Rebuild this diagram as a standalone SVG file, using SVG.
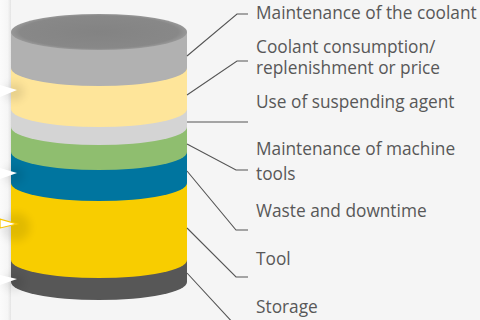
<svg xmlns="http://www.w3.org/2000/svg" width="480" height="320" viewBox="0 0 480 320">
<style>
.lbl{font-family:"Open Sans","Noto Sans","DejaVu Sans",sans-serif;font-size:17.3px;fill:#585858}
.ld{fill:none;stroke:#555;stroke-width:1.1}
</style>
<defs>
<linearGradient id="strip" x1="0" x2="1" y1="0" y2="0">
<stop offset="0" stop-color="#fbfbfb"/>
<stop offset="0.7" stop-color="#f6f6f6"/>
<stop offset="1" stop-color="#e4e4e4"/>
</linearGradient>
<filter id="blur" x="-50%" y="-50%" width="200%" height="200%"><feGaussianBlur stdDeviation="4"/></filter>
<radialGradient id="topg" cx="0.5" cy="0.5" r="0.5">
<stop offset="0" stop-color="#838383"/>
<stop offset="0.9" stop-color="#888888"/>
<stop offset="1" stop-color="#989898"/>
</radialGradient>
</defs>
<rect width="480" height="320" fill="#f5f5f5"/>
<rect x="0" y="0" width="11" height="320" fill="url(#strip)"/>
<g id="cylinder">
<path d="M11,260 L11,282 A88,18 0 0 0 187,282 L187,260 Z" fill="#575757"/>
<path d="M11,183 L11,260 A88,18 0 0 0 187,260 L187,183 Z" fill="#f8cd00"/>
<path d="M11,152 L11,183 A88,18 0 0 0 187,183 L187,152 Z" fill="#00759f"/>
<path d="M11,127 L11,152 A88,18 0 0 0 187,152 L187,127 Z" fill="#8fbe6f"/>
<path d="M11,109 L11,127 A88,18 0 0 0 187,127 L187,109 Z" fill="#d4d4d4"/>
<path d="M11,68 L11,109 A88,18 0 0 0 187,109 L187,68 Z" fill="#fee59a"/>
<path d="M11,32 L11,68 A88,18 0 0 0 187,68 L187,32 Z" fill="#b1b1b1"/>
<ellipse cx="99" cy="32" rx="88" ry="18" fill="url(#topg)"/>
</g>
<g id="arrows">
<g fill="#000" opacity="0.09" filter="url(#blur)">
<ellipse cx="14" cy="92" rx="10" ry="9"/>
<ellipse cx="14" cy="175" rx="10" ry="9"/>
<ellipse cx="16" cy="227" rx="14" ry="14"/>
<ellipse cx="14" cy="282" rx="10" ry="9"/>
</g>
<polygon points="0,85 17,90 0,97" fill="#ffffff"/>
<polygon points="0,168 17,173 0,179" fill="#ffffff"/>
<polygon points="0,219 17,224 0,228" fill="#ffffff" stroke="#f8c500" stroke-width="1.2"/>
<polygon points="0,275 17,279 0,285" fill="#ffffff"/>
</g>
<g id="connectors">
<polyline class="ld" points="187,56 237,14 248,14"/>
<polyline class="ld" points="187,95 237,61 248,61"/>
<polyline class="ld" points="187,122 248,122"/>
<polyline class="ld" points="187,144 236,170 248,170"/>
<polyline class="ld" points="187,171 236,230 248,230"/>
<polyline class="ld" points="187,228 236,277 248,277"/>
<polyline class="ld" points="187,273 235,325 248,325"/>
</g>
<g id="label1"><text class="lbl" x="256" y="19">Maintenance of the coolant</text></g>
<g id="label2"><text class="lbl" x="256" y="53">Coolant consumption/</text><text class="lbl" x="256" y="74">replenishment or price</text></g>
<g id="label3"><text class="lbl" x="256" y="108">Use of suspending agent</text></g>
<g id="label4"><text class="lbl" x="256" y="155">Maintenance of machine</text><text class="lbl" x="256" y="180">tools</text></g>
<g id="label5"><text class="lbl" x="256" y="217">Waste and downtime</text></g>
<g id="label6"><text class="lbl" x="256" y="265">Tool</text></g>
<g id="label7"><text class="lbl" x="256" y="313">Storage</text></g>
</svg>
